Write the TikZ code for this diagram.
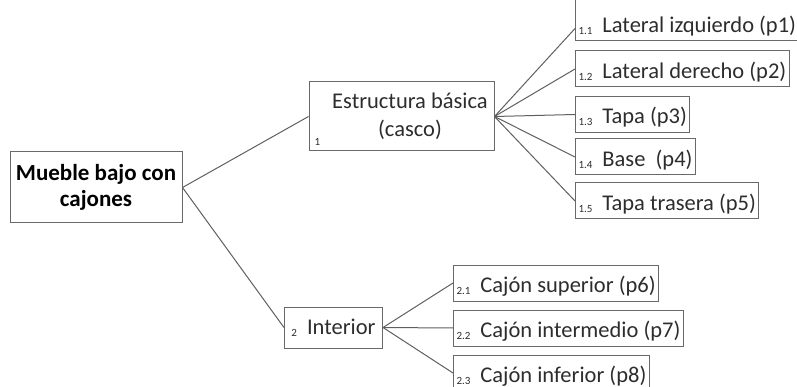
\documentclass[tikz,border=0pt]{standalone}
\usepackage{fontspec}
\setmainfont{Carlito}

\definecolor{boxgray}{RGB}{105,105,105}
\definecolor{linegray}{RGB}{95,95,95}
\definecolor{textgray}{RGB}{45,45,45}

\newcommand{\itemnr}[1]{\raisebox{-2pt}{\fontsize{11}{11}\selectfont #1}\hspace{10pt}}

\tikzset{
  box/.style={draw=boxgray, line width=1pt, inner xsep=3pt, text=textgray,
    font=\fontsize{22.5}{26}\selectfont},
  leaf/.style={box, anchor=west, inner ysep=4pt, text height=23.5pt, text depth=4.5pt},
  num/.style={inner sep=6pt, text=textgray, font=\fontsize{11}{11}\selectfont},
  link/.style={draw=linegray, line width=1pt},
}

\begin{document}
\begin{tikzpicture}[x=1pt,y=-1pt]
\useasboundingbox (0,0) rectangle (797,387);
\clip (0,0) rectangle (797,387);
\node[box, text=black, font=\fontsize{23}{26}\selectfont\bfseries, align=center,
  minimum width=172pt, minimum height=71pt] (root) at (96,187.5) {Mueble bajo con\\cajones};
\node[box, align=center, minimum width=185pt, minimum height=69pt, font=\fontsize{22.5}{28}\selectfont]
  (est) at (401.5,116.5) {\hspace*{17pt}Estructura básica\\\hspace*{17pt}(casco)};
\node[num, anchor=south west] (n1) at (est.south west) {1};
\node[box, inner xsep=7pt, minimum width=97pt, minimum height=41pt] (int) at (333.5,327.5) {\itemnr{2}Interior};
% piezas de la estructura
\node[leaf, text height=33.5pt] (l1) at (575,18) {\itemnr{1.1}Lateral izquierdo (p1)};
\node[leaf] (l2) at (575,69) {\itemnr{1.2}Lateral derecho (p2)};
\node[leaf] (l3) at (575,114.5) {\itemnr{1.3}Tapa (p3)};
\node[leaf] (l4) at (575,157) {\itemnr{1.4}Base~~(p4)};
\node[leaf] (l5) at (575,201) {\itemnr{1.5}Tapa trasera (p5)};
% cajones
\node[leaf] (c1) at (453,283) {\itemnr{2.1}Cajón superior (p6)};
\node[leaf] (c2) at (453,328) {\itemnr{2.2}Cajón intermedio (p7)};
\node[leaf] (c3) at (453,373) {\itemnr{2.3}Cajón inferior (p8)};
\draw[link] (root.east) -- (est.west);
\draw[link] (root.east) -- (int.west);
\draw[link] (est.east) -- ([yshift=13pt]l1.south west);
\draw[link] (est.east) -- (l2.west);
\draw[link] (est.east) -- (l3.west);
\draw[link] (est.east) -- (l4.west);
\draw[link] (est.east) -- (l5.west);
\draw[link] (int.east) -- (c1.west);
\draw[link] (int.east) -- (c2.west);
\draw[link] (int.east) -- (c3.west);
\end{tikzpicture}
\end{document}
